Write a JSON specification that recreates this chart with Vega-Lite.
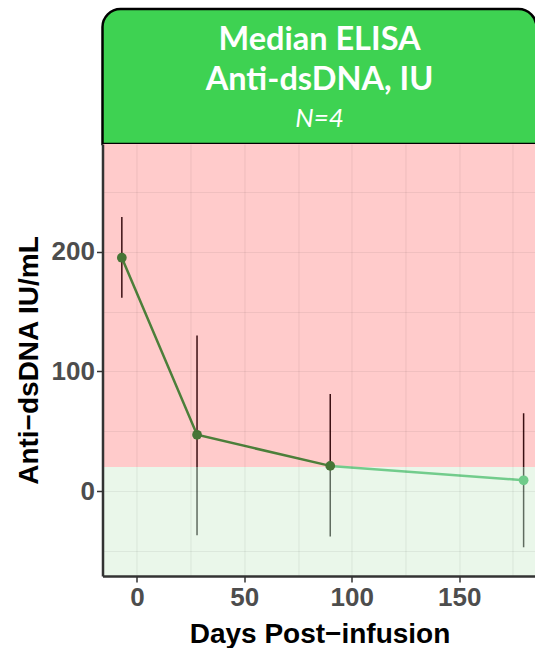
{
  "$schema": "https://vega.github.io/schema/vega-lite/v6.json",
  "padding": {"left": 14.5, "top": 7, "right": 0, "bottom": 0},
  "spacing": 0,
  "bounds": "flush",
  "config": {"font": "Liberation Sans", "view": {"stroke": null}},
  "datasets": {
    "header": [{"line1": "Median ELISA", "line2": "Anti-dsDNA, IU", "n": "N=4"}],
    "zones": [
      {"zone": "above", "lo": 20, "hi": 290},
      {"zone": "below", "lo": -71, "hi": 20}
    ],
    "bars": [
      {"day": -7, "zone": "above", "from": 161.5, "to": 229},
      {"day": 28, "zone": "above", "from": 20, "to": 130},
      {"day": 28, "zone": "below", "from": -37, "to": 20},
      {"day": 90, "zone": "above", "from": 20, "to": 81},
      {"day": 90, "zone": "below", "from": -38, "to": 20},
      {"day": 180, "zone": "above", "from": 20, "to": 65},
      {"day": 180, "zone": "below", "from": -47, "to": 20}
    ],
    "line": [
      {"day": -7, "median": 195, "zone": "above"},
      {"day": 28, "median": 47, "zone": "above"},
      {"day": 90, "median": 21, "zone": "above"},
      {"day": 90, "median": 21, "zone": "below"},
      {"day": 180, "median": 9, "zone": "below"}
    ],
    "points": [
      {"day": -7, "median": 195, "zone": "above"},
      {"day": 28, "median": 47, "zone": "above"},
      {"day": 90, "median": 21, "zone": "above"},
      {"day": 180, "median": 9, "zone": "below"}
    ]
  },
  "vconcat": [
    {
      "width": 434,
      "height": 135,
      "data": {"name": "header"},
      "layer": [
        {
          "mark": {"type": "rect", "fill": "#3ed252", "stroke": "#000000", "strokeWidth": 2.5, "cornerRadiusTopLeft": 18, "cornerRadiusTopRight": 18},
          "encoding": {"x": {"value": 0}, "x2": {"value": "width"}, "y": {"value": 0}, "y2": {"value": "height"}}
        },
        {
          "mark": {"type": "text", "font": "Lato", "fontWeight": "bold", "fontSize": 32.5, "color": "#ffffff", "baseline": "middle", "align": "center", "dy": -37},
          "encoding": {"text": {"field": "line1"}}
        },
        {
          "mark": {"type": "text", "font": "Lato", "fontWeight": "bold", "fontSize": 32.5, "color": "#ffffff", "baseline": "middle", "align": "center", "dy": 3},
          "encoding": {"text": {"field": "line2"}}
        },
        {
          "mark": {"type": "text", "font": "Lato", "fontStyle": "italic", "fontSize": 26, "color": "#ffffff", "baseline": "middle", "align": "center", "dy": 42},
          "encoding": {"text": {"field": "n"}}
        }
      ]
    },
    {
      "width": 434,
      "height": 432,
      "layer": [
        {
          "data": {"name": "zones"},
          "mark": {"type": "rect", "clip": true},
          "encoding": {
            "y": {
              "field": "lo", "type": "quantitative",
              "scale": {"domain": [-71, 290], "nice": false, "zero": false},
              "axis": {
                "title": "Anti\u2212dsDNA IU/mL",
                "values": [-50, 0, 50, 100, 150, 200, 250],
                "labelExpr": "datum.value % 100 === 0 ? datum.label : ''",
                "tickOpacity": {"condition": {"test": "datum.value % 100 !== 0", "value": 0}, "value": 1},
                "grid": true, "gridColor": "#000000", "gridOpacity": 0.06, "gridWidth": 1.2,
                "zindex": 1,
                "domainColor": "#333333", "domainWidth": 2.5,
                "tickColor": "#333333", "tickWidth": 1.5, "tickSize": 6,
                "labelFont": "Liberation Sans", "labelFontWeight": "bold", "labelFontSize": 26, "labelColor": "#4d4d4d", "labelPadding": 2,
                "titleFont": "Liberation Sans", "titleFontWeight": "bold", "titleFontSize": 28, "titleColor": "#000000", "titlePadding": 8
              }
            },
            "y2": {"field": "hi"},
            "color": {"field": "zone", "type": "nominal", "scale": {"domain": ["above", "below"], "range": ["#ffcbcb", "#eaf7ea"]}, "legend": null}
          }
        },
        {
          "data": {"name": "bars"},
          "mark": {"type": "rule", "strokeWidth": 1.5},
          "encoding": {
            "x": {"field": "day", "type": "quantitative"},
            "y": {"field": "from", "type": "quantitative"},
            "y2": {"field": "to"},
            "color": {"field": "zone", "type": "nominal", "scale": {"domain": ["above", "below"], "range": ["#3a0f12", "#5f6b5f"]}, "legend": null}
          }
        },
        {
          "data": {"name": "line"},
          "mark": {"type": "line", "strokeWidth": 2.5},
          "encoding": {
            "x": {
              "field": "day", "type": "quantitative",
              "scale": {"domain": [-16, 186], "nice": false, "zero": false},
              "axis": {
                "title": "Days Post\u2212infusion",
                "values": [0, 25, 50, 75, 100, 125, 150, 175],
                "labelExpr": "datum.value % 50 === 0 ? datum.label : ''",
                "tickOpacity": {"condition": {"test": "datum.value % 50 !== 0", "value": 0}, "value": 1},
                "grid": true, "gridColor": "#000000", "gridOpacity": 0.06, "gridWidth": 1.2,
                "zindex": 1,
                "domainColor": "#333333", "domainWidth": 2.5,
                "tickColor": "#333333", "tickWidth": 1.5, "tickSize": 6,
                "labelFont": "Liberation Sans", "labelFontWeight": "bold", "labelFontSize": 26, "labelColor": "#4d4d4d", "labelPadding": 2,
                "titleFont": "Liberation Sans", "titleFontWeight": "bold", "titleFontSize": 28, "titleColor": "#000000", "titlePadding": 10
              }
            },
            "y": {"field": "median", "type": "quantitative"},
            "color": {"field": "zone", "type": "nominal", "scale": {"domain": ["above", "below"], "range": ["#4c7f3a", "#72cc8c"]}, "legend": null}
          }
        },
        {
          "data": {"name": "points"},
          "mark": {"type": "circle", "size": 95, "opacity": 1},
          "encoding": {
            "x": {"field": "day", "type": "quantitative"},
            "y": {"field": "median", "type": "quantitative"},
            "color": {"field": "zone", "type": "nominal", "scale": {"domain": ["above", "below"], "range": ["#467536", "#6fcb8a"]}, "legend": null}
          }
        }
      ],
      "resolve": {"scale": {"color": "independent"}}
    }
  ]
}
